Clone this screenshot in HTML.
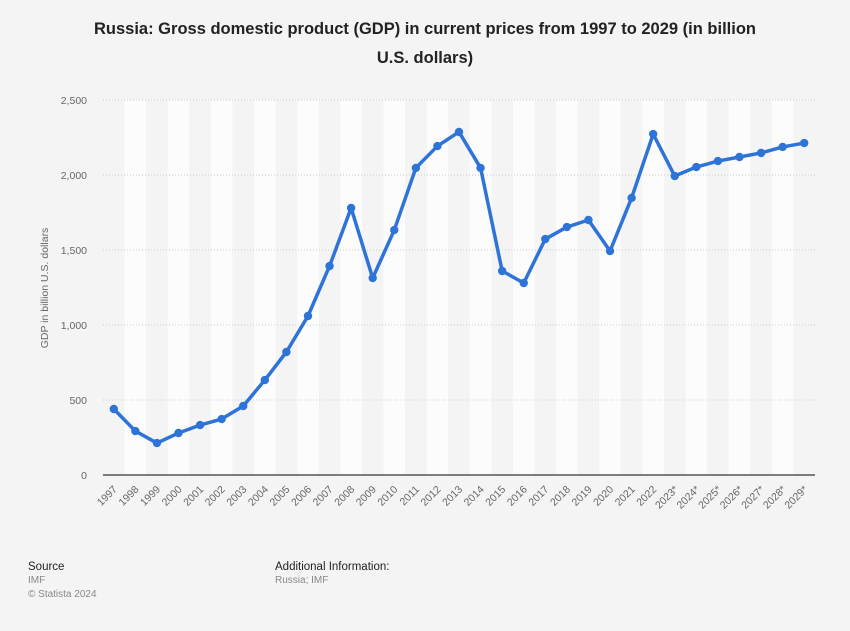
<!DOCTYPE html>
<html><head><meta charset="utf-8"><style>
body{margin:0;background:#f4f4f4;font-family:"Liberation Sans",sans-serif;}
svg{display:block}
</style></head><body>
<svg width="850" height="631" xmlns="http://www.w3.org/2000/svg">
<rect width="850" height="631" fill="#f4f4f4"/>
<text x="425" y="34" text-anchor="middle" font-size="16.5" font-weight="bold" fill="#222">Russia: Gross domestic product (GDP) in current prices from 1997 to 2029 (in billion</text>
<text x="425" y="63" text-anchor="middle" font-size="16.5" font-weight="bold" fill="#222">U.S. dollars)</text>
<g id="bands"></g><g id="grid"></g><g id="yticks"></g><g id="xticks"></g>
<line x1="103" y1="475" x2="815" y2="475" stroke="#555" stroke-width="1.5"/>
<polyline id="line" fill="none" stroke="#2d73d8" stroke-width="3.5" stroke-linejoin="round"/>
<g id="pts"></g>
<text transform="translate(48,288) rotate(-90)" text-anchor="middle" font-size="10.5" fill="#666">GDP in billion U.S. dollars</text>
<text x="28" y="570" font-size="11.5" fill="#222">Source</text>
<text x="28" y="583" font-size="10" fill="#888">IMF</text>
<text x="28" y="597" font-size="10" fill="#888">© Statista 2024</text>
<text x="275" y="570" font-size="11.5" fill="#222">Additional Information:</text>
<text x="275" y="583" font-size="10" fill="#888">Russia; IMF</text>
</svg>
<script>
const years=["1997","1998","1999","2000","2001","2002","2003","2004","2005","2006","2007","2008","2009","2010","2011","2012","2013","2014","2015","2016","2017","2018","2019","2020","2021","2022","2023*","2024*","2025*","2026*","2027*","2028*","2029*"];
const gdp=[440,293,213,280,333,373,460,633,820,1060,1393,1780,1313,1633,2047,2193,2287,2047,1360,1280,1573,1653,1700,1493,1847,2273,1993,2053,2093,2120,2147,2187,2213];
const yTicks=[0,500,1000,1500,2000,2500];
const yTickLabels=["0","500","1,000","1,500","2,000","2,500"];
const NS="http://www.w3.org/2000/svg";
const x0=103,x1=815,yb=475,yt=100,ymax=2500;
const step=(x1-x0)/years.length;
const X=i=>x0+step*(i+0.5);
const Y=v=>yb-(v/ymax)*(yb-yt);
function mk(t,a,p){const e=document.createElementNS(NS,t);for(const k in a)e.setAttribute(k,a[k]);p.appendChild(e);return e;}
const bands=document.getElementById('bands');
years.forEach((y,i)=>{if(i%2===1){const r=mk('rect',{x:x0+step*i,y:yt,width:step,height:yb-yt,fill:'#fcfcfc'},bands);

}});
const grid=document.getElementById('grid'),yt_=document.getElementById('yticks');
yTicks.forEach((v,i)=>{if(v>0){const l=mk('line',{x1:x0,x2:x1,y1:Y(v),y2:Y(v),stroke:'#ccc','stroke-dasharray':'1,2'},grid);

}
const t=mk('text',{x:87,y:Y(v)+4,'text-anchor':'end','font-size':'10.5',fill:'#666'},yt_);t.textContent=yTickLabels[i];

});
const xt=document.getElementById('xticks');
years.forEach((y,i)=>{const t=mk('text',{transform:`translate(${X(i)+4},${490}) rotate(-45)`,'text-anchor':'end','font-size':'10.5',fill:'#666'},xt);t.textContent=y;

});
document.getElementById('line').setAttribute('points',gdp.map((v,i)=>X(i)+','+Y(v)).join(' '));
const pts=document.getElementById('pts');
gdp.forEach((v,i)=>{const c=mk('circle',{cx:X(i),cy:Y(v),r:4.2,fill:'#2d73d8'},pts);

});
</script>
</body></html>
